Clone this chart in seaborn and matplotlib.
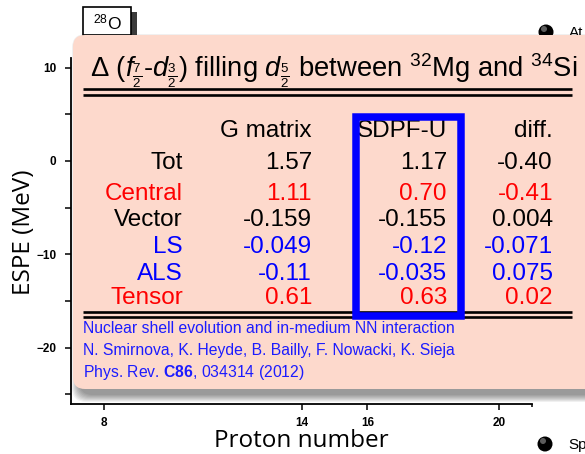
import numpy as np
import matplotlib
matplotlib.use("Agg")
import matplotlib.pyplot as plt
import seaborn as sns
from matplotlib.patches import FancyBboxPatch, Rectangle, Circle

# Table: change of the f7/2-d3/2 gap when d5/2 is filled (MeV)
row_labels = ["Tot", "Central", "Vector", "LS", "ALS", "Tensor"]
row_colors = ["black", "red", "black", "blue", "blue", "red"]
col_headers = ["G matrix", "SDPF-U", "diff."]
g_matrix = ["1.57", "1.11", "-0.159", "-0.049", "-0.11", "0.61"]
sdpf_u = ["1.17", "0.70", "-0.155", "-0.12", "-0.035", "0.63"]
diff = ["-0.40", "-0.41", "0.004", "-0.071", "0.075", "0.02"]

# Axis ticks of the ESPE chart
x_ticks = [8, 14, 16, 20]
x_minor = [21]
y_ticks = [10, 0, -10, -20]
y_minor = [5, -5, -15, -25]

citation = [
    "Nuclear shell evolution and in-medium NN interaction",
    "N. Smirnova, K. Heyde, B. Bailly, F. Nowacki, K. Sieja",
    r"Phys. Rev. $\mathbf{C86}$, 034314 (2012)",
]

sns.set_theme(style="ticks")
plt.rcParams["font.family"] = ["Liberation Sans", "DejaVu Sans"]
plt.rcParams["text.color"] = "black"
plt.rcParams["axes.labelcolor"] = "black"
plt.rcParams["xtick.color"] = "black"
plt.rcParams["ytick.color"] = "black"
plt.rcParams["mathtext.fontset"] = "custom"
plt.rcParams["mathtext.rm"] = "Liberation Sans"
plt.rcParams["mathtext.it"] = "Liberation Sans:italic"
plt.rcParams["mathtext.bf"] = "Liberation Sans:bold"

W, H = 585, 454
fig = plt.figure(figsize=(W / 100, H / 100), dpi=100)
fig.patch.set_facecolor("white")

# ---- ESPE chart axes ----
ax = fig.add_axes([71 / W, 50 / H, 461 / W, 346 / H])
ax.set_facecolor("white")
ax.set_xlim(6.99, 21.0)
ax.set_ylim(-26.05, 11.04)
sns.despine(ax=ax)
for s in ("left", "bottom"):
    ax.spines[s].set_linewidth(1.3)
    ax.spines[s].set_color("black")
ax.set_xticks(x_ticks)
ax.set_xticks(x_minor, minor=True)
ax.set_yticks(y_ticks)
ax.set_yticks(y_minor, minor=True)
ax.tick_params(axis="both", which="major", direction="out", length=4.0,
               width=1.1, color="black", labelsize=8.5, labelcolor="black")
ax.tick_params(axis="y", which="minor", direction="out", length=4.0,
               width=1.1, color="black")
ax.tick_params(axis="x", which="minor", direction="out", length=2.5,
               width=1.1, color="black")
ax.tick_params(axis="y", pad=6.5)
ax.tick_params(axis="x", pad=5.5)
for lab in ax.get_xticklabels() + ax.get_yticklabels():
    lab.set_fontweight("bold")
ax.grid(False)

ax.set_xlabel("Proton number", family=["Open Sans", "DejaVu Sans"], fontsize=17.5,
              color="black")
ax.set_ylabel("ESPE (MeV)", family=["Open Sans", "DejaVu Sans"], fontsize=17.5,
              color="black")
ax.xaxis.set_label_coords((301 - 71) / 461, -(441 - 404) / 346)
ax.xaxis.label.set_verticalalignment("center")
ax.yaxis.set_label_coords((24 - 71) / 461, (404 - 232) / 346)
ax.yaxis.label.set_verticalalignment("center")

# ---- overlay in pixel coordinates ----
ov = fig.add_axes([0, 0, 1, 1], zorder=5)
ov.set_xlim(0, W)
ov.set_ylim(H, 0)
ov.axis("off")
ov.patch.set_alpha(0)

# nucleus tag box with drop shadow
ov.add_patch(Rectangle((131, 12), 6, 24, facecolor="#3a3a3a", edgecolor="none", zorder=1))
ov.add_patch(Rectangle((83, 7), 48, 28, facecolor="white", edgecolor="black",
                       linewidth=1.2, zorder=2))
ov.text(107, 22, r"$^{28}$O", ha="center", va="center", fontsize=12.5, zorder=3)

# legend spheres on the right edge
for cx, cy, txt in [(546, 32, "At"), (545, 444, "Sp")]:
    ov.add_patch(Circle((cx, cy), 7.5, facecolor="black", edgecolor="none", zorder=2))
    ov.add_patch(Circle((cx - 2, cy - 3), 3.0, facecolor="#9a9a9a", edgecolor="none",
                        alpha=0.6, zorder=3))
    ov.text(cx + 23, cy + 1, txt, ha="left", va="center", fontsize=11, zorder=3)

# soft shadow below the table panel
bx, by, bw, bh = 73, 35, 620, 354
for pad in np.linspace(7, 0, 8):
    ov.add_patch(FancyBboxPatch((bx + 6 - pad, by + 6 - pad), bw + 2 * pad, bh + 2 * pad,
                                boxstyle="round,pad=0,rounding_size=14",
                                facecolor="black", edgecolor="none", alpha=0.06, zorder=4))
ov.add_patch(FancyBboxPatch((bx, by), bw, bh, boxstyle="round,pad=0,rounding_size=12",
                            facecolor="#fdd9cc", edgecolor="none", zorder=5))

# title
ov.text(90, 77,
        r"$\Delta$ ($f_{\frac{7}{2}}$-$d_{\frac{3}{2}}$) filling $d_{\frac{5}{2}}$ "
        r"between $^{32}$Mg and $^{34}$Si",
        ha="left", va="baseline", fontsize=19.7, color="black", zorder=6)

# double rules
for y in (89, 95, 312, 317):
    ov.plot([83, 572], [y, y], color="black", linewidth=1.9, solid_capstyle="butt", zorder=6)

# table body
fs = 17.5
col_right = [312, 447, 553]
header_base = 137
row_base = [169, 200, 226.5, 253, 279.5, 304]
for xr, head in zip(col_right, col_headers):
    ov.text(xr, header_base, head, ha="right", va="baseline", fontsize=fs,
            color="black", zorder=6)
for i, (lab, col) in enumerate(zip(row_labels, row_colors)):
    yb = row_base[i]
    ov.text(183, yb, lab, ha="right", va="baseline", fontsize=fs, color=col, zorder=6)
    for xr, vals in zip(col_right, (g_matrix, sdpf_u, diff)):
        ov.text(xr, yb, vals[i], ha="right", va="baseline", fontsize=fs, color=col, zorder=6)

# highlight frame around the SDPF-U column
ov.add_patch(Rectangle((355.5, 117), 105, 199, facecolor="none", edgecolor="#0000ff",
                       linewidth=5.4, joinstyle="miter", zorder=7))

# reference
for k, line in enumerate(citation):
    ov.text(83, 333 + 22 * k, line, ha="left", va="baseline", fontsize=11.3,
            color="#1c1cff", zorder=6)

fig.savefig("out.png", dpi=100)
